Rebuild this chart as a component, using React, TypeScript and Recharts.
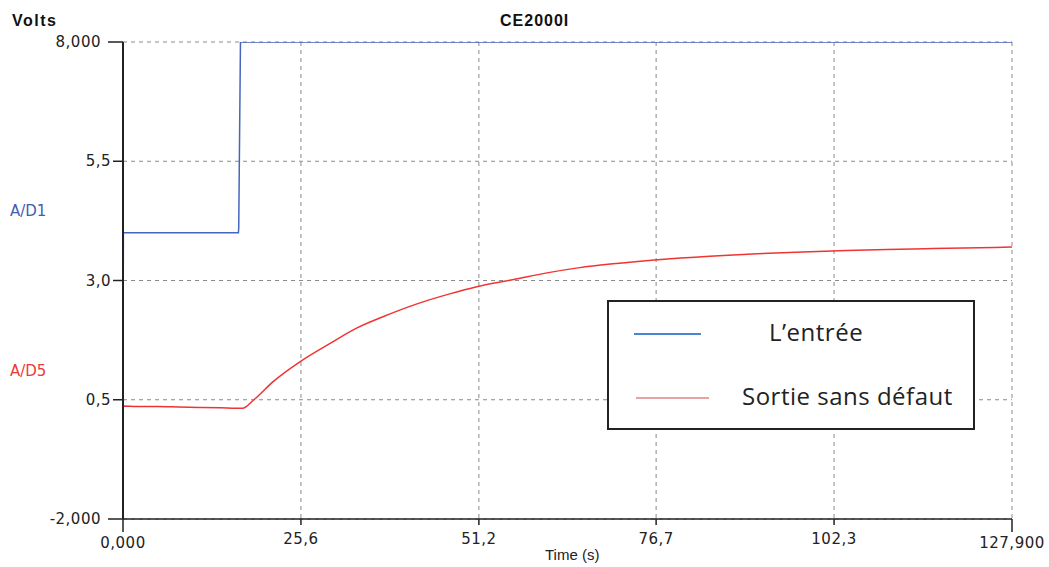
import React from 'react';
import { LineChart, Line, XAxis, YAxis, CartesianGrid, Legend } from 'recharts';

const TICK_FONT = "'DejaVu Sans', sans-serif";
const TEXT_FONT = "'Liberation Sans', Arial, sans-serif";
const LEGEND_FONT = "'Open Sans', 'Noto Sans', sans-serif";

const W = 1049;
const H = 567;

// X axis ticks (seconds) and their labels
const X_TICKS = [0, 25.6, 51.2, 76.7, 102.3, 127.9];
const X_LABELS = ['0,000', '25,6', '51,2', '76,7', '102,3', '127,900'];

// Y axis ticks (volts) and their labels
const Y_TICKS = [-2, 0.5, 3, 5.5, 8];
const Y_LABELS = ['-2,000', '0,5', '3,0', '5,5', '8,000'];

// A/D1 — input step
const INPUT_T = [0, 0.05, 16.6, 16.65, 16.9, 127.9];
const INPUT_V = [0.4, 4.0, 4.0, 4.1, 8.0, 8.0];

// A/D5 — output response
const OUTPUT_T = [
  0, 0.05, 2, 5, 8, 11, 14, 17.2, 18.75, 21.6, 25.5, 29.8, 33.6, 37.4, 42.3,
  47.0, 50.9, 56.2, 61.0, 65.7, 70.5, 76.5, 84.4, 91.2, 97.8, 104.1, 109.9,
  116.5, 127.9,
];
const OUTPUT_V = [
  0.0, 0.37, 0.36, 0.36, 0.35, 0.34, 0.33, 0.32, 0.49, 0.88, 1.3, 1.68, 2.0,
  2.24, 2.51, 2.72, 2.87, 3.02, 3.16, 3.27, 3.35, 3.43, 3.51, 3.56, 3.6, 3.63,
  3.65, 3.67, 3.7,
];

const inputData = INPUT_T.map((t, i) => ({ t, v: INPUT_V[i] }));
const outputData = OUTPUT_T.map((t, i) => ({ t, v: OUTPUT_V[i] }));

const BLUE = '#4566bd';
const RED = '#f03434';
const LEGEND_COLORS = ['#4a84d2', '#e6a3a3'];

function XTick({ x, y, index }: any) {
  const isEnd = index === 0 || index === X_TICKS.length - 1;
  const len = isEnd ? 13 : 6;
  return (
    <g>
      <line x1={x} y1={y} x2={x} y2={y + len} stroke="#222" strokeWidth={1.5} />
      <text
        x={x}
        y={y + (isEnd ? 24 : 19.5)}
        textAnchor="middle"
        dominantBaseline="central"
        fontFamily={TICK_FONT}
        fontSize={15}
        letterSpacing={0.5}
        fill="#222"
      >
        {X_LABELS[index]}
      </text>
    </g>
  );
}

function YTick({ x, y, index }: any) {
  const isEnd = index === 0 || index === Y_TICKS.length - 1;
  const len = isEnd ? 15 : 10;
  return (
    <g>
      <line x1={x - len} y1={y} x2={x} y2={y} stroke="#222" strokeWidth={1.5} />
      <text
        x={x - len - (isEnd ? 7 : 2)}
        y={y}
        textAnchor="end"
        dominantBaseline="central"
        fontFamily={TICK_FONT}
        fontSize={15}
        letterSpacing={0.5}
        fill="#222"
      >
        {Y_LABELS[index]}
      </text>
    </g>
  );
}

function LegendBox({ payload }: any) {
  const rows = [
    { lineX: 25, lineW: 67, y: 32, textX: 160 },
    { lineX: 27, lineW: 73, y: 96, textX: 133 },
  ];
  return (
    <div
      style={{
        position: 'relative',
        width: 368,
        height: 130,
        boxSizing: 'border-box',
        border: '2px solid #222',
        background: '#fff',
      }}
    >
      {(payload || []).map((entry: any, i: number) => (
        <React.Fragment key={entry.value}>
          <div
            style={{
              position: 'absolute',
              left: rows[i].lineX,
              top: rows[i].y - 1,
              width: rows[i].lineW,
              height: 2,
              background: LEGEND_COLORS[i],
            }}
          />
          <div
            style={{
              position: 'absolute',
              left: rows[i].textX,
              top: rows[i].y - 19,
              fontFamily: LEGEND_FONT,
              fontSize: 24,
              letterSpacing: 0.5,
              lineHeight: '34px',
              color: '#222',
              whiteSpace: 'nowrap',
            }}
          >
            {entry.value}
          </div>
        </React.Fragment>
      ))}
    </div>
  );
}

const overlay = (extra: React.CSSProperties): React.CSSProperties => ({
  position: 'absolute',
  whiteSpace: 'nowrap',
  lineHeight: 1,
  ...extra,
});

export default function App() {
  return (
    <div style={{ position: 'absolute', left: 0, top: 0, width: W, height: H, background: '#fff' }}>
      <LineChart width={W} height={H} margin={{ top: 42, right: 37, bottom: 0, left: 0 }}>
        <CartesianGrid
          stroke="#8a8a8a"
          strokeDasharray="4 4"
          strokeWidth={1}
        />
        <XAxis
          dataKey="t"
          type="number"
          domain={[0, 127.9]}
          ticks={X_TICKS}
          allowDataOverflow
          height={48}
          tickSize={0}
          tickMargin={0}
          tickLine={false}
          tick={<XTick />}
          axisLine={{ stroke: '#222', strokeWidth: 1.5 }}
          interval={0}
        />
        <YAxis
          type="number"
          domain={[-2, 8]}
          ticks={Y_TICKS}
          allowDataOverflow
          width={123}
          tickSize={0}
          tickMargin={0}
          tickLine={false}
          tick={<YTick />}
          axisLine={{ stroke: '#222', strokeWidth: 2 }}
          interval={0}
        />
        <Legend
          layout="vertical"
          align="center"
          verticalAlign="middle"
          content={<LegendBox />}
          wrapperStyle={{ position: 'absolute', left: 607, top: 300, width: 368, height: 130 }}
        />
        <Line
          data={inputData}
          dataKey="v"
          name="L’entrée"
          type="linear"
          stroke={BLUE}
          strokeWidth={1.5}
          dot={false}
          isAnimationActive={false}
        />
        <Line
          data={outputData}
          dataKey="v"
          name="Sortie sans défaut"
          type="monotone"
          stroke={RED}
          strokeWidth={1.5}
          dot={false}
          isAnimationActive={false}
        />
      </LineChart>

      <div style={overlay({ left: 12, top: 13, fontFamily: TEXT_FONT, fontWeight: 'bold', fontSize: 16, letterSpacing: 1.5, color: '#111' })}>
        Volts
      </div>
      <div style={overlay({ left: 500, top: 13, fontFamily: TEXT_FONT, fontWeight: 'bold', fontSize: 16, letterSpacing: 1, color: '#111' })}>
        CE2000I
      </div>
      <div style={overlay({ left: 10, top: 204, fontFamily: TICK_FONT, fontSize: 15, color: '#4060b4' })}>
        A/D1
      </div>
      <div style={overlay({ left: 10, top: 364, fontFamily: TICK_FONT, fontSize: 15, color: '#ec3a3a' })}>
        A/D5
      </div>
      <div style={overlay({ left: 545, top: 547, fontFamily: TEXT_FONT, fontSize: 15, color: '#222' })}>
        Time (s)
      </div>
    </div>
  );
}
